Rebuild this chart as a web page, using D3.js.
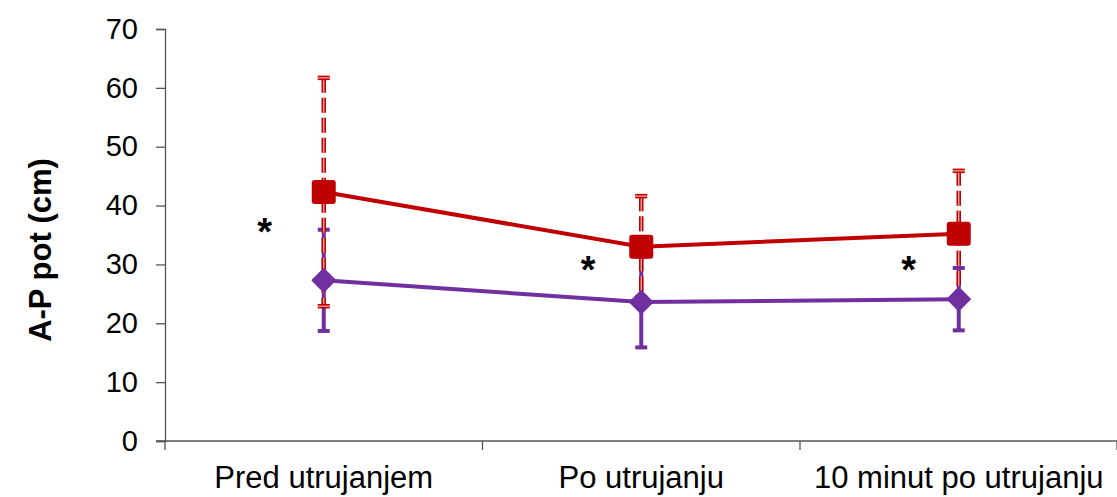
<!DOCTYPE html>
<html>
<head>
<meta charset="utf-8">
<script src="https://cdn.jsdelivr.net/npm/d3@7"></script>
<style>
  body { margin: 0; background: #fff; }
  text { font-family: "Liberation Sans", Arial, sans-serif; }
</style>
</head>
<body>
<script>
// data
var categories = ["Pred utrujanjem", "Po utrujanju", "10 minut po utrujanju"];
var redMean = [42.3, 33.0, 35.2];
var redErr = [19.4, 8.6, 10.7];
var purpleMean = [27.3, 23.6, 24.1];
var purpleErr = [8.6, 7.7, 5.3];
var yTicks = [0, 10, 20, 30, 40, 50, 60, 70];
var starCat = [0, 1, 2];
var starVal = [36.1, 29.6, 29.6];

var W = 1117, H = 497;
var mLeft = 165, mRight = 1117, mTop = 29, mBottom = 441;

var red = "#c00000", purple = "#7030a0";

var svg = d3.select("body").append("svg")
    .attr("width", W)
    .attr("height", H);

var x = d3.scaleBand()
    .domain(categories)
    .range([mLeft, mRight + 0.5]);

var y = d3.scaleLinear()
    .domain([0, 70])
    .range([mBottom, mTop]);

// y axis
var yAxis = svg.append("g")
    .attr("transform", "translate(" + mLeft + ",0)")
    .call(d3.axisLeft(y).tickValues(yTicks).tickSize(9).tickPadding(18));
yAxis.select(".domain").attr("stroke", "#555").attr("stroke-width", 1.3);
yAxis.selectAll(".tick line").attr("stroke", "#555").attr("stroke-width", 1.3);
yAxis.selectAll(".tick text")
    .attr("font-size", 29)
    .attr("fill", "#000")
    .style("font-family", "Liberation Sans, Arial, sans-serif");

// x axis
var xAxis = svg.append("g")
    .attr("transform", "translate(0," + mBottom + ")");
xAxis.append("line")
    .attr("x1", mLeft - 9).attr("x2", W)
    .attr("stroke", "#555").attr("stroke-width", 1.3);
var xTickPos = categories.map(function(c){ return x(c) }).concat([mRight]);
xAxis.selectAll(".xt")
    .data(xTickPos)
    .enter()
    .append("line")
    .attr("class", "xt")
    .attr("x1", function(d){ return d }).attr("x2", function(d){ return d })
    .attr("y1", 0).attr("y2", 9)
    .attr("stroke", "#555").attr("stroke-width", 1.3);
xAxis.selectAll(".xl")
    .data(categories)
    .enter()
    .append("text")
    .attr("class", "xl")
    .attr("x", function(d){ return x(d) + x.bandwidth() / 2 })
    .attr("y", 47)
    .attr("text-anchor", "middle")
    .attr("font-size", 31)
    .attr("fill", "#000")
    .text(function(d){ return d });

// axis title
svg.append("text")
    .attr("transform", "translate(51," + ((mTop + mBottom) / 2 + 15) + ") rotate(-90)")
    .attr("text-anchor", "middle")
    .attr("font-size", 31)
    .attr("font-weight", "bold")
    .attr("fill", "#000")
    .text("A-P pot (cm)");

function cx(i){ return x(categories[i]) + x.bandwidth() / 2 }

// purple error bars (solid)
var pe = svg.append("g");
purpleMean.forEach(function(m, i){
    var hi = y(m + purpleErr[i]), lo = y(m - purpleErr[i]);
    pe.append("line")
        .attr("x1", cx(i)).attr("x2", cx(i))
        .attr("y1", hi).attr("y2", lo)
        .attr("stroke", purple).attr("stroke-width", 4);
    [hi, lo].forEach(function(v){
        pe.append("line")
            .attr("x1", cx(i) - 6).attr("x2", cx(i) + 6)
            .attr("y1", v).attr("y2", v)
            .attr("stroke", purple).attr("stroke-width", 4);
    });
});

// red error bars (dashed double line)
var re = svg.append("g");
redMean.forEach(function(m, i){
    var hi = y(m + redErr[i]), lo = y(m - redErr[i]);
    re.append("line")
        .attr("x1", cx(i)).attr("x2", cx(i))
        .attr("y1", hi).attr("y2", lo)
        .attr("stroke", red).attr("stroke-width", 4.5)
        .attr("stroke-dasharray", "15,5");
    re.append("line")
        .attr("x1", cx(i)).attr("x2", cx(i))
        .attr("y1", hi).attr("y2", lo)
        .attr("stroke", "#f3b0b0").attr("stroke-width", 1.3)
        .attr("stroke-dasharray", "15,5");
    [hi, lo].forEach(function(v){
        re.append("line")
            .attr("x1", cx(i) - 6).attr("x2", cx(i) + 6)
            .attr("y1", v).attr("y2", v)
            .attr("stroke", red).attr("stroke-width", 4.5);
        re.append("line")
            .attr("x1", cx(i) - 6).attr("x2", cx(i) + 6)
            .attr("y1", v).attr("y2", v)
            .attr("stroke", "#f3b0b0").attr("stroke-width", 1.2);
    });
});

var line = d3.line()
    .x(function(d, i){ return cx(i) })
    .y(function(d){ return y(d) });

// purple series
svg.append("path")
    .datum(purpleMean)
    .attr("d", line)
    .attr("fill", "none")
    .attr("stroke", purple)
    .attr("stroke-width", 4);
svg.selectAll(".dia")
    .data(purpleMean)
    .enter()
    .append("path")
    .attr("class", "dia")
    .attr("d", d3.symbol().type(d3.symbolSquare).size(250))
    .attr("transform", function(d, i){ return "translate(" + cx(i) + "," + y(d) + ") rotate(45)" })
    .attr("fill", purple)
    .attr("stroke", purple)
    .attr("stroke-width", 2)
    .attr("stroke-linejoin", "round");

// red series
svg.append("path")
    .datum(redMean)
    .attr("d", line)
    .attr("fill", "none")
    .attr("stroke", red)
    .attr("stroke-width", 4);
svg.selectAll(".sq")
    .data(redMean)
    .enter()
    .append("rect")
    .attr("class", "sq")
    .attr("x", function(d, i){ return cx(i) - 12 })
    .attr("y", function(d){ return y(d) - 12 })
    .attr("width", 24).attr("height", 24)
    .attr("rx", 3)
    .attr("fill", red);

// significance stars
svg.selectAll(".star")
    .data(starVal)
    .enter()
    .append("text")
    .attr("class", "star")
    .attr("x", function(d, i){ return cx(starCat[i]) + [-59, -53, -50][i] })
    .attr("y", function(d){ return y(d) + 16 })
    .attr("text-anchor", "middle")
    .attr("font-size", 38)
    .attr("font-weight", "bold")
    .attr("fill", "#000")
    .text("*");
</script>
</body>
</html>
